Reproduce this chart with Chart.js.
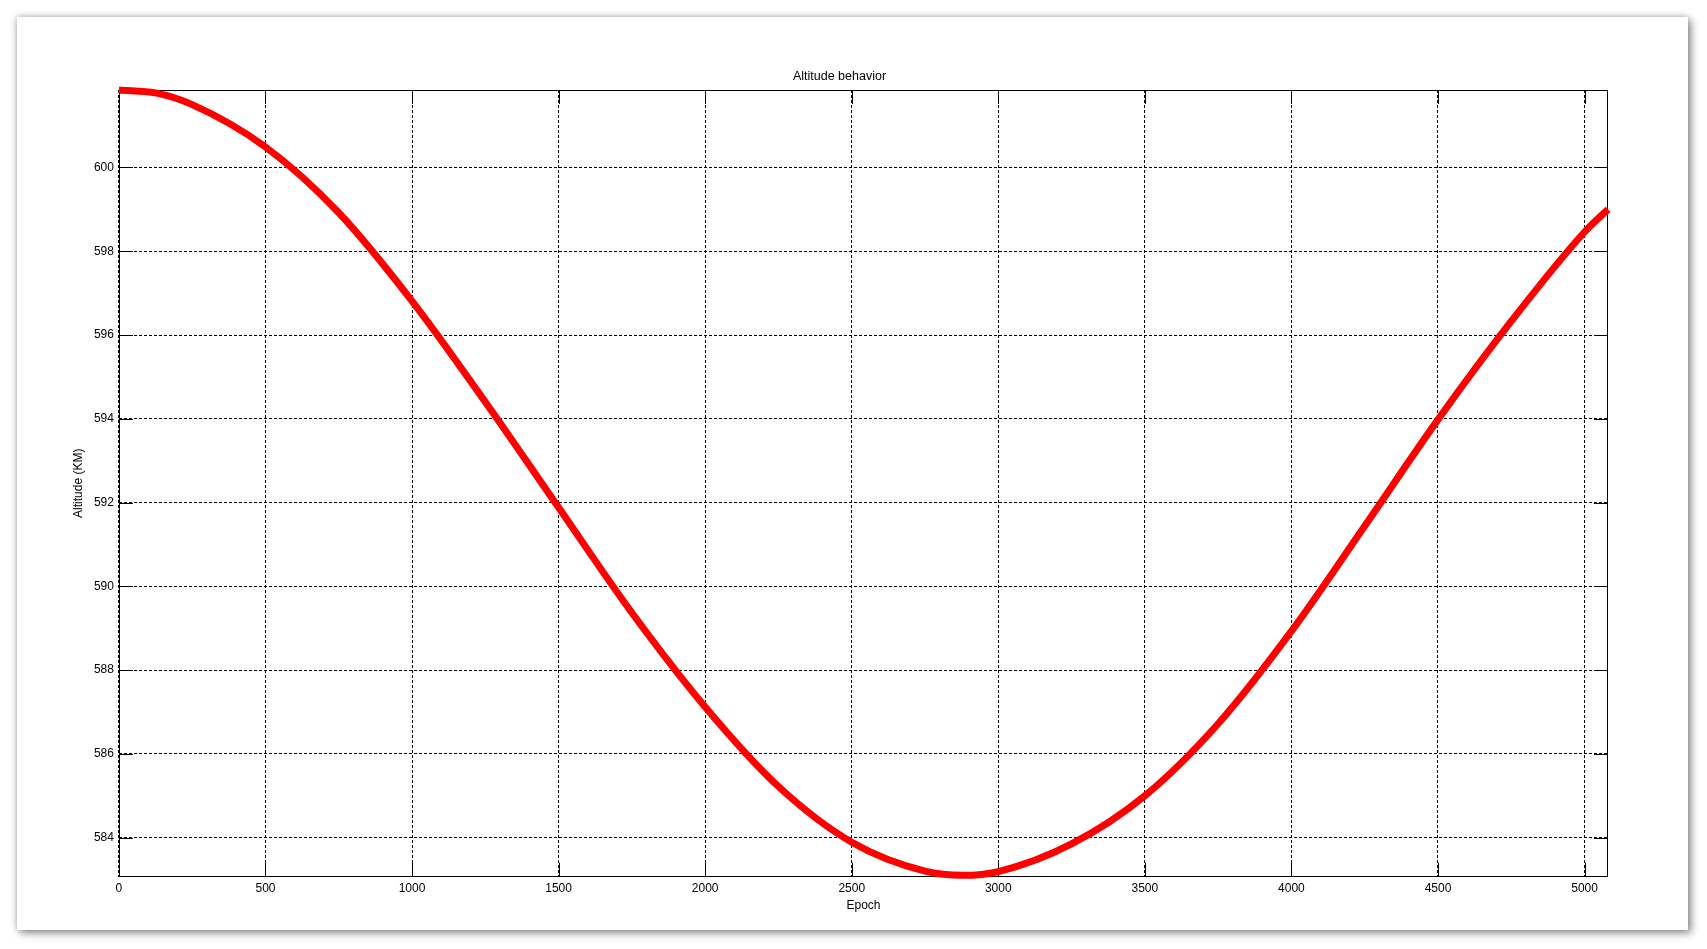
<!DOCTYPE html>
<html>
<head>
<meta charset="utf-8">
<title>Altitude behavior</title>
<script src="https://cdn.jsdelivr.net/npm/chart.js@4.4.1/dist/chart.umd.min.js"></script>
<style>
    html, body { margin: 0; padding: 0; background: #fff; }
    #panel {
        position: absolute;
        left: 17px; top: 17px;
        width: 1671px; height: 913px;
        background: #fff;
        box-shadow: 3px 3px 8px rgba(0, 0, 0, 0.45), -1px -1px 6px rgba(0, 0, 0, 0.18);
    }
</style>
</head>
<body>
<div id="panel"><canvas id="myChart"></canvas></div>
<script>
// values
const epochs = [0, 125, 250, 500, 750, 1000, 1250, 1500, 1750, 2000, 2250, 2500, 2750, 2880,
    3000, 3250, 3500, 3750, 4000, 4250, 4500, 4750, 5000, 5080];
const altitude = [601.85, 601.78, 601.5, 600.49, 598.92, 596.81, 594.4, 591.88, 589.37, 587.12, 585.22, 583.89, 583.2, 583.1,
    583.19, 583.85, 585.0, 586.72, 588.93, 591.44, 593.98, 596.33, 598.46, 599.0];
const xTicks = [0, 500, 1000, 1500, 2000, 2500, 3000, 3500, 4000, 4500, 5000];
const yTicks = [584, 586, 588, 590, 592, 594, 596, 598, 600];

const font = { family: 'Liberation Sans, Arial, sans-serif', size: 12 };

// matlab style box with inward ticks on all four sides
const matlabAxes = {
    id: 'matlabAxes',
    beforeDatasetsDraw(chart) {
        const { ctx, chartArea: a, scales: { x, y } } = chart;
        ctx.save();
        ctx.strokeStyle = '#000';
        ctx.lineWidth = 1;
        ctx.setLineDash([]);
        ctx.beginPath();
        x.ticks.forEach(t => {
            const px = Math.round(x.getPixelForValue(t.value)) + 0.5;
            ctx.moveTo(px, a.bottom); ctx.lineTo(px, a.bottom - 14);
            ctx.moveTo(px, a.top); ctx.lineTo(px, a.top + 14);
        });
        y.ticks.forEach(t => {
            const py = Math.round(y.getPixelForValue(t.value)) + 0.5;
            ctx.moveTo(a.left, py); ctx.lineTo(a.left + 14, py);
            ctx.moveTo(a.right, py); ctx.lineTo(a.right - 14, py);
        });
        ctx.stroke();
        ctx.strokeRect(Math.round(a.left) + 0.5, Math.round(a.top) + 0.5,
            Math.round(a.width) - 1, Math.round(a.height) - 1);
        ctx.restore();
    }
};

const ctx = document.getElementById('myChart').getContext('2d');
const myChart = new Chart(ctx, {
    type: 'line',
    data: {
        datasets: [{
            label: 'Altitude',
            data: epochs.map((e, i) => ({ x: e, y: altitude[i] })),
            borderColor: '#ff0000',
            borderWidth: 7,
            pointRadius: 0,
            cubicInterpolationMode: 'monotone',
            fill: false,
            clip: false
        }]
    },
    options: {
        responsive: true,
        maintainAspectRatio: false,
        animation: false,
        layout: { padding: { left: 54, top: 52, right: 80, bottom: 18 } },
        plugins: {
            legend: { display: false },
            tooltip: { enabled: false },
            title: {
                display: true,
                text: 'Altitude behavior',
                color: '#000',
                font: { family: font.family, size: 12.5, weight: 'normal' },
                padding: { top: 0, bottom: 6 }
            }
        },
        scales: {
            x: {
                type: 'linear',
                min: 0,
                max: 5080,
                afterBuildTicks: scale => { scale.ticks = xTicks.map(v => ({ value: v })); },
                ticks: { color: '#000', font: font, padding: 4.5, maxRotation: 0, callback: v => String(v) },
                grid: { color: '#000', lineWidth: 1, drawTicks: false },
                border: { display: false, dash: [3, 2] },
                title: {
                    display: true, text: 'Epoch', color: '#000',
                    font: { family: font.family, size: 12, lineHeight: 1.0 },
                    padding: { top: 0, bottom: 0 }
                }
            },
            y: {
                type: 'linear',
                min: 583.07,
                max: 601.85,
                afterBuildTicks: scale => { scale.ticks = yTicks.map(v => ({ value: v })); },
                ticks: { color: '#000', font: font, padding: 5, callback: v => String(v) },
                grid: { color: '#000', lineWidth: 1, drawTicks: false },
                border: { display: false, dash: [3, 2] },
                title: { display: true, text: 'Altitude (KM)', color: '#000', font: font, padding: { top: 0, bottom: 3.5 } }
            }
        }
    },
    plugins: [matlabAxes]
});
</script>
</body>
</html>
